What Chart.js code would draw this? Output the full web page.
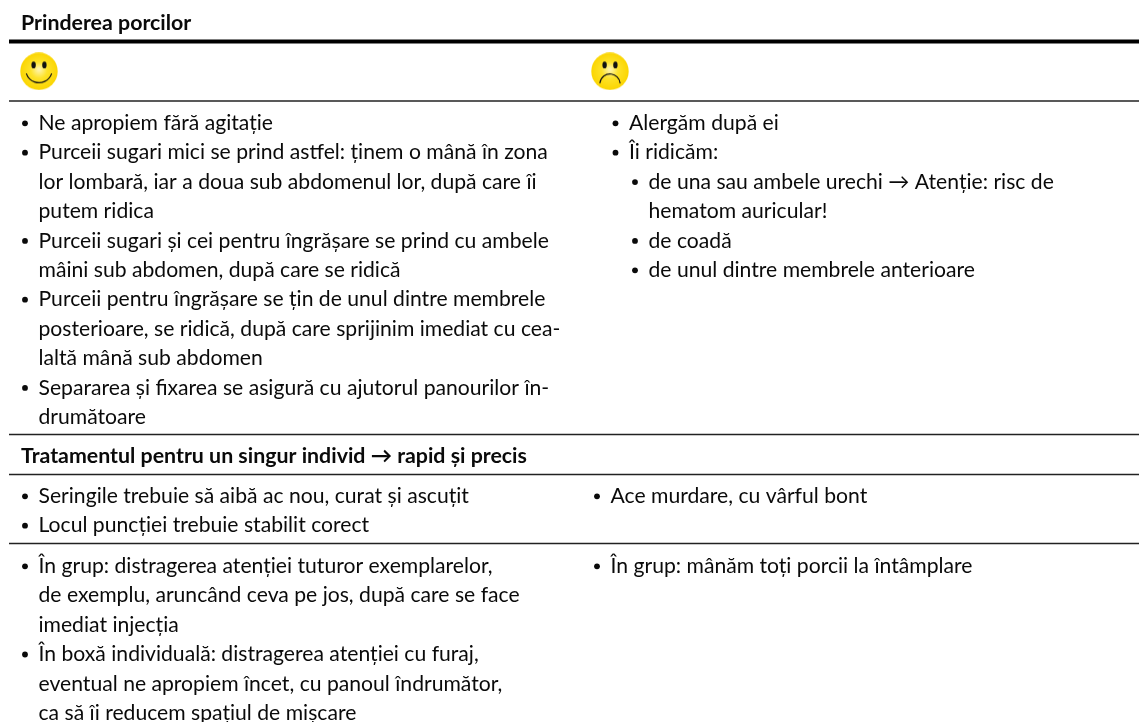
<!DOCTYPE html>
<html>
<head>
<meta charset="utf-8">
<title>Prinderea porcilor</title>
<script src="https://cdn.jsdelivr.net/npm/chart.js@4"></script>
<style>
  html, body { margin: 0; padding: 0; background: #fff; }
  canvas { display: block; }
</style>
</head>
<body>
<canvas id="chart" width="1139" height="722"></canvas>
<script>
// Table contents, one string per printed line. '*' = bullet, '**' = nested bullet, '>' / '>>' = continuation
const titleCatch = 'Prinderea porcilor'
const titleTreat = 'Tratamentul pentru un singur individ → rapid și precis'
const catchGood = [
  '*Ne apropiem fără agitație',
  '*Purceii sugari mici se prind astfel: ținem o mână în zona',
  '>lor lombară, iar a doua sub abdomenul lor, după care îi',
  '>putem ridica',
  '*Purceii sugari și cei pentru îngrășare se prind cu ambele',
  '>mâini sub abdomen, după care se ridică',
  '*Purceii pentru îngrășare se țin de unul dintre membrele',
  '>posterioare, se ridică, după care sprijinim imediat cu cea-',
  '>laltă mână sub abdomen',
  '*Separarea și fixarea se asigură cu ajutorul panourilor în-',
  '>drumătoare',
]
const catchBad = [
  '*Alergăm după ei',
  '*Îi ridicăm:',
  '**de una sau ambele urechi → Atenție: risc de',
  '>>hematom auricular!',
  '**de coadă',
  '**de unul dintre membrele anterioare',
]
const needleGood = [
  '*Seringile trebuie să aibă ac nou, curat și ascuțit',
  '*Locul puncției trebuie stabilit corect',
]
const needleBad = ['*Ace murdare, cu vârful bont']
const groupGood = [
  '*În grup: distragerea atenției tuturor exemplarelor,',
  '>de exemplu, aruncând ceva pe jos, după care se face',
  '>imediat injecția',
  '*În boxă individuală: distragerea atenției cu furaj,',
  '>eventual ne apropiem încet, cu panoul îndrumător,',
  '>ca să îi reducem spațiul de mișcare',
]
const groupBad = ['*În grup: mânăm toți porcii la întâmplare']

// Horizontal rules of the table
const thinRules = [101, 434.5, 474.5, 543.5]
const thickRules = [41.5]

const LINE_H = 29.4
const blocks = [
  { lines: catchGood, x: 25, y: 130 },
  { lines: catchBad, x: 615.5, y: 130 },
  { lines: needleGood, x: 25, y: 503 },
  { lines: needleBad, x: 597, y: 503 },
  { lines: groupGood, x: 25, y: 573 },
  { lines: groupBad, x: 597, y: 573 },
]

function face(happy) {
  const c = document.createElement('canvas')
  c.width = c.height = 38
  const g = c.getContext('2d')
  const grad = g.createRadialGradient(19, 17, 1, 19, 19, 19)
  grad.addColorStop(0, '#fff4a8')
  grad.addColorStop(0.4, '#fee32a')
  grad.addColorStop(1, '#fbd500')
  g.fillStyle = grad
  g.beginPath(); g.arc(19, 19, 18.7, 0, Math.PI * 2); g.fill()
  g.fillStyle = '#111'
  g.beginPath(); g.ellipse(13.6, 12.7, 2.2, 3.4, 0, 0, Math.PI * 2); g.fill()
  g.beginPath(); g.ellipse(24.4, 12.7, 2.2, 3.4, 0, 0, Math.PI * 2); g.fill()
  g.strokeStyle = '#111'
  g.lineWidth = 1.2
  g.lineCap = 'round'
  g.beginPath()
  if (happy) {
    g.arc(19, 17.1, 13.3, 0.11 * Math.PI, 0.89 * Math.PI)
  } else {
    g.arc(19, 31.8, 10.1, 1.04 * Math.PI, 1.96 * Math.PI)
  }
  g.stroke()
  return c
}

const tableText = {
  id: 'tableText',
  afterDatasetsDraw(chart) {
    const { ctx, scales: { x, y } } = chart
    ctx.save()
    ctx.fillStyle = '#0a0a0a'
    ctx.textBaseline = 'alphabetic'
    ctx.font = 'bold 21.35px Lato, "DejaVu Sans"'
    ctx.fillText(titleCatch, x.getPixelForValue(21), y.getPixelForValue(30))
    ctx.fillText(titleTreat, x.getPixelForValue(21), y.getPixelForValue(463.3))
    ctx.font = '21.15px Lato, "DejaVu Sans"'
    blocks.forEach(b => {
      b.lines.forEach((line, i) => {
        const level = line.replace(/[^*>]/g, '').length
        const text = line.slice(level)
        const yPx = y.getPixelForValue(b.y + i * LINE_H)
        const bulletX = x.getPixelForValue(b.x + (level - 1) * 19.5)
        if (line[0] === '*') {
          ctx.beginPath()
          ctx.arc(bulletX, yPx - 6.7, 2.9, 0, Math.PI * 2)
          ctx.fill()
        }
        ctx.fillText(text, bulletX + 13.5, yPx)
      })
    })
    ctx.restore()
  },
}

const ruleData = row => [{ x: 9, y: row }, { x: 1139, y: row }]

new Chart(document.getElementById('chart'), {
  type: 'scatter',
  data: {
    datasets: [
      ...thinRules.map(row => ({
        data: ruleData(row), showLine: true, borderColor: '#222', borderWidth: 1.3, pointRadius: 0,
      })),
      ...thickRules.map(row => ({
        data: ruleData(row), showLine: true, borderColor: '#000', borderWidth: 4, pointRadius: 0,
      })),
      { data: [{ x: 39, y: 71.3 }], pointStyle: face(true) },
      { data: [{ x: 610, y: 71.3 }], pointStyle: face(false) },
    ],
  },
  options: {
    responsive: false,
    animation: false,
    layout: { padding: 0, autoPadding: false },
    plugins: { legend: { display: false }, tooltip: { enabled: false } },
    scales: {
      x: { display: false, min: 0, max: 1139 },
      y: { display: false, min: 0, max: 722, reverse: true },
    },
  },
  plugins: [tableText],
})
</script>
</body>
</html>
